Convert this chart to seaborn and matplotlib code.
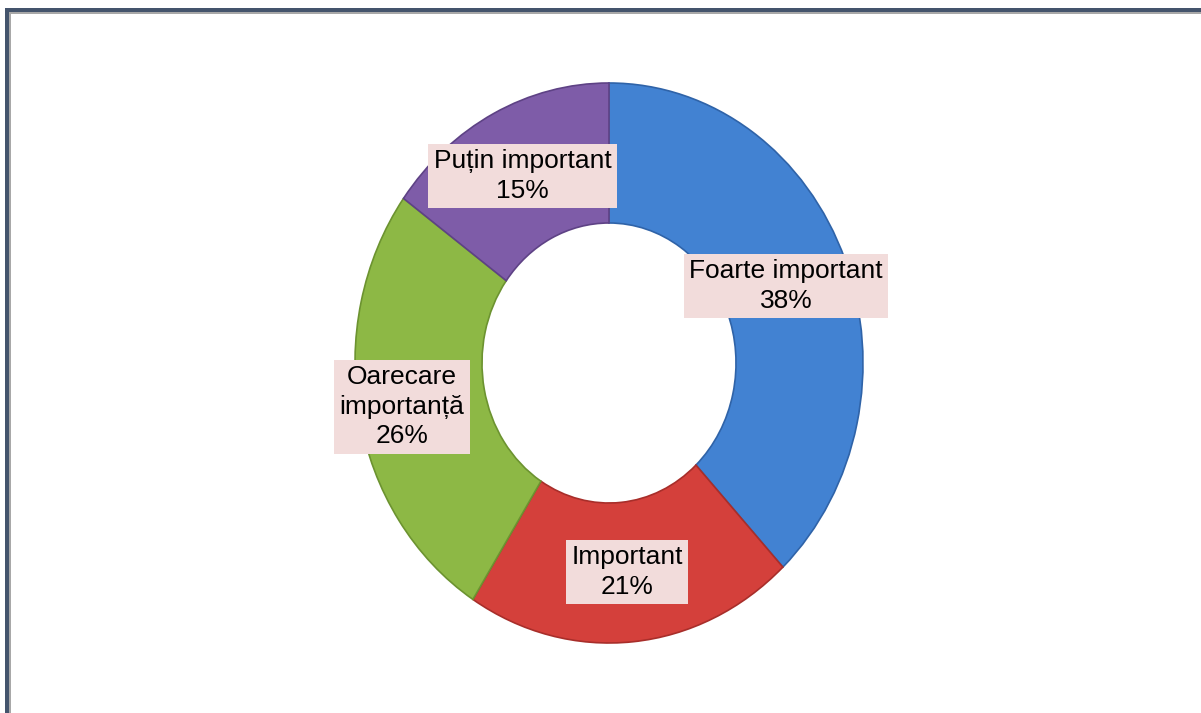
import numpy as np
import matplotlib
matplotlib.use("Agg")
import matplotlib.pyplot as plt
import seaborn as sns
from matplotlib.patches import Rectangle

# date
categorii = ["Foarte important", "Important", "Oarecare\nimportanță", "Puțin important"]
procente = [38, 21, 26, 15]
culori = ["#4282D2", "#D4403B", "#8DB845", "#7E5CA8"]
margini = ["#2F63A8", "#A82E2A", "#6C9330", "#5E4285"]

sns.set_theme(style="white")
plt.rcParams["font.family"] = ["Liberation Sans", "DejaVu Sans"]

fig = plt.figure(figsize=(12.01, 7.13), dpi=100)
ax = fig.add_axes([0, 0, 1, 1])

wedges, _ = ax.pie(procente, startangle=90, counterclock=False, colors=culori,
                   radius=1.0, wedgeprops=dict(width=0.5, linewidth=1.2))
for w, m in zip(wedges, margini):
    w.set_edgecolor(m)

# etichete pe mijlocul fiecarei felii
raza_eticheta = [0.75, 0.75, 0.83, 0.75]
unghi = 90.0
for cat, p, r in zip(categorii, procente, raza_eticheta):
    mij = np.deg2rad(unghi - p * 3.6 / 2)
    unghi -= p * 3.6
    ax.text(r * np.cos(mij), r * np.sin(mij), f"{cat}\n{p}%", ha="center", va="center",
            fontsize=19, color="black", linespacing=1.3,
            bbox=dict(boxstyle="square,pad=0.2", facecolor="#F2DCDB", edgecolor="none"))

# elipsa usor alungita pe verticala, ca in original
ax.set_aspect("auto")
ax.set_xlim(-609 / 254, (1201 - 609) / 254)
ax.set_ylim(-(713 - 363) / 280, 363 / 280)
ax.axis("off")

# chenar sus si stanga
W, H = 1201, 713
fig.patches.append(Rectangle((5 / W, 0), 4 / W, (H - 8) / H, transform=fig.transFigure,
                             facecolor="#44546C", edgecolor="none"))
fig.patches.append(Rectangle((5 / W, (H - 12) / H), (W - 5) / W, 4 / H, transform=fig.transFigure,
                             facecolor="#44546C", edgecolor="none"))
fig.patches.append(Rectangle((9 / W, 0), 2 / W, (H - 12) / H, transform=fig.transFigure,
                             facecolor="#A8A8A8", edgecolor="none"))
fig.patches.append(Rectangle((9 / W, (H - 14) / H), (W - 9) / W, 2 / H, transform=fig.transFigure,
                             facecolor="#A8A8A8", edgecolor="none"))

fig.savefig("out.png", dpi=100, facecolor="white")
